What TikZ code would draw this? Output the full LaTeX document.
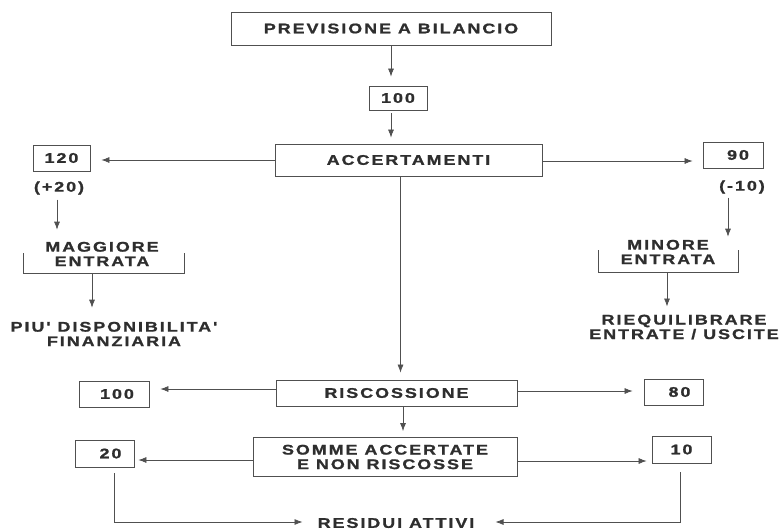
\documentclass[tikz,border=0pt]{standalone}
\usepackage{fontspec}
\newfontfamily\labfont{Liberation Sans}[UprightFont={* Bold},FakeStretch=1.28,LetterSpace=14,FakeBold=1.2]
\usetikzlibrary{arrows.meta}
\definecolor{ink}{HTML}{2E2E2E}
\definecolor{wire}{HTML}{505050}
\tikzset{
  lab/.style={font=\labfont\fontsize{14}{14.5}\selectfont, text=ink, inner sep=0pt, align=center},
  box/.style={lab, draw=wire, line width=0.8pt},
  arr/.style={draw=wire, line width=0.7pt, -{Latex[length=8pt,width=6pt]}},
  ln/.style={draw=wire, line width=0.7pt}
}
\begin{document}
\begin{tikzpicture}[x=1pt,y=-1pt]
\useasboundingbox (0,0) rectangle (782,530);
% boxes
\node[box, minimum width=320, minimum height=33] (prev) at (391,28.5) {PREVISIONE A BILANCIO};
\node[box, minimum width=58, minimum height=24] (na) at (398,98) {100};
\node[box, minimum width=267, minimum height=32] (acc) at (408.5,160) {ACCERTAMENTI};
\node[box, minimum width=57, minimum height=26] (n120) at (61.5,158) {120};
\node[box, minimum width=60, minimum height=26] (n90) at (733,155) {\hspace*{10pt}90};
\node[lab] (p20) at (59,188) {(+20)};
\node[lab] (m10) at (742,187) {(-10)};
\node[lab] (magg) at (102,254) {MAGGIORE\\ENTRATA};
\node[lab] (piu) at (114,334) {PIU' DISPONIBILITA'\\FINANZIARIA};
\node[lab] (mino) at (668,252) {MINORE\\ENTRATA};
\node[lab] (riq) at (684,327) {RIEQUILIBRARE\\ENTRATE / USCITE};
\node[box, minimum width=241, minimum height=26] (ris) at (396.5,393) {RISCOSSIONE};
\node[box, minimum width=70, minimum height=26] (nb) at (114,394) {\hspace*{6pt}100};
\node[box, minimum width=59, minimum height=26] (n80) at (673.5,392) {\hspace*{12pt}80};
\node[box, minimum width=264, minimum height=39] (som) at (385,457) {SOMME ACCERTATE\\E NON RISCOSSE};
\node[box, minimum width=59, minimum height=27] (n20) at (104.5,453.5) {\hspace*{12pt}20};
\node[box, minimum width=59, minimum height=27] (n10) at (681.5,449.5) {10};
\node[lab] (res) at (396,523) {RESIDUI ATTIVI};
% brackets
\coordinate (mb) at (92,273);
\coordinate (nb2) at (667,272);
\draw[ln] (23,253) -- (23,273) -- (184,273) -- (184,253);
\draw[ln] (598,250) -- (598,272) -- (738,272) -- (738,250);
% connectors
\draw[arr, shorten >=9pt] (prev.south) -- (prev.south |- na.north);
\draw[arr, shorten <=3pt, shorten >=6pt] (na.south -| prev.south) -- (acc.north -| prev.south);
\draw[arr, shorten >=11pt] (acc.west) -- (acc.west -| n120.east);
\draw[arr, shorten >=10pt] ([yshift=-1pt]acc.east) -- ([yshift=-1pt]acc.east -| n90.west);
\draw[arr, shorten <=5pt, shorten >=12pt] ([xshift=-2pt]p20.south) -- ([xshift=-2pt]p20.south |- magg.north);
\draw[arr, shorten >=14pt] (mb) -- (mb |- piu.north);
\draw[arr, shorten <=4pt, shorten >=3pt] ([xshift=-14pt]m10.south) -- ([xshift=-14pt]m10.south |- mino.north);
\draw[arr, shorten >=8pt] (nb2) -- (nb2 |- riq.north);
\draw[arr, shorten >=7pt] ([xshift=-8pt]acc.south) -- ([xshift=-8pt]acc.south |- ris.north);
\draw[arr, shorten >=11pt] ([yshift=4pt]ris.west) -- ([yshift=4pt]ris.west -| nb.east);
\draw[arr, shorten >=11pt] ([yshift=2pt]ris.east) -- ([yshift=2pt]ris.east -| n80.west);
\draw[arr, shorten >=6pt] ([xshift=6.5pt]ris.south) -- ([xshift=6.5pt]ris.south |- som.north);
\draw[arr, shorten >=4pt] ([yshift=-3pt]som.west) -- ([yshift=-3pt]som.west -| n20.east);
\draw[arr, shorten >=5pt] ([yshift=-4pt]som.east) -- ([yshift=-4pt]som.east -| n10.west);
\draw[arr, shorten <=6pt, shorten >=15pt] ([xshift=10pt]n20.south) |- ([yshift=1pt]res.west);
\draw[arr, shorten <=9pt, shorten >=21pt] ([xshift=-1pt]n10.south) |- ([yshift=1pt]res.east);
\end{tikzpicture}
\end{document}
